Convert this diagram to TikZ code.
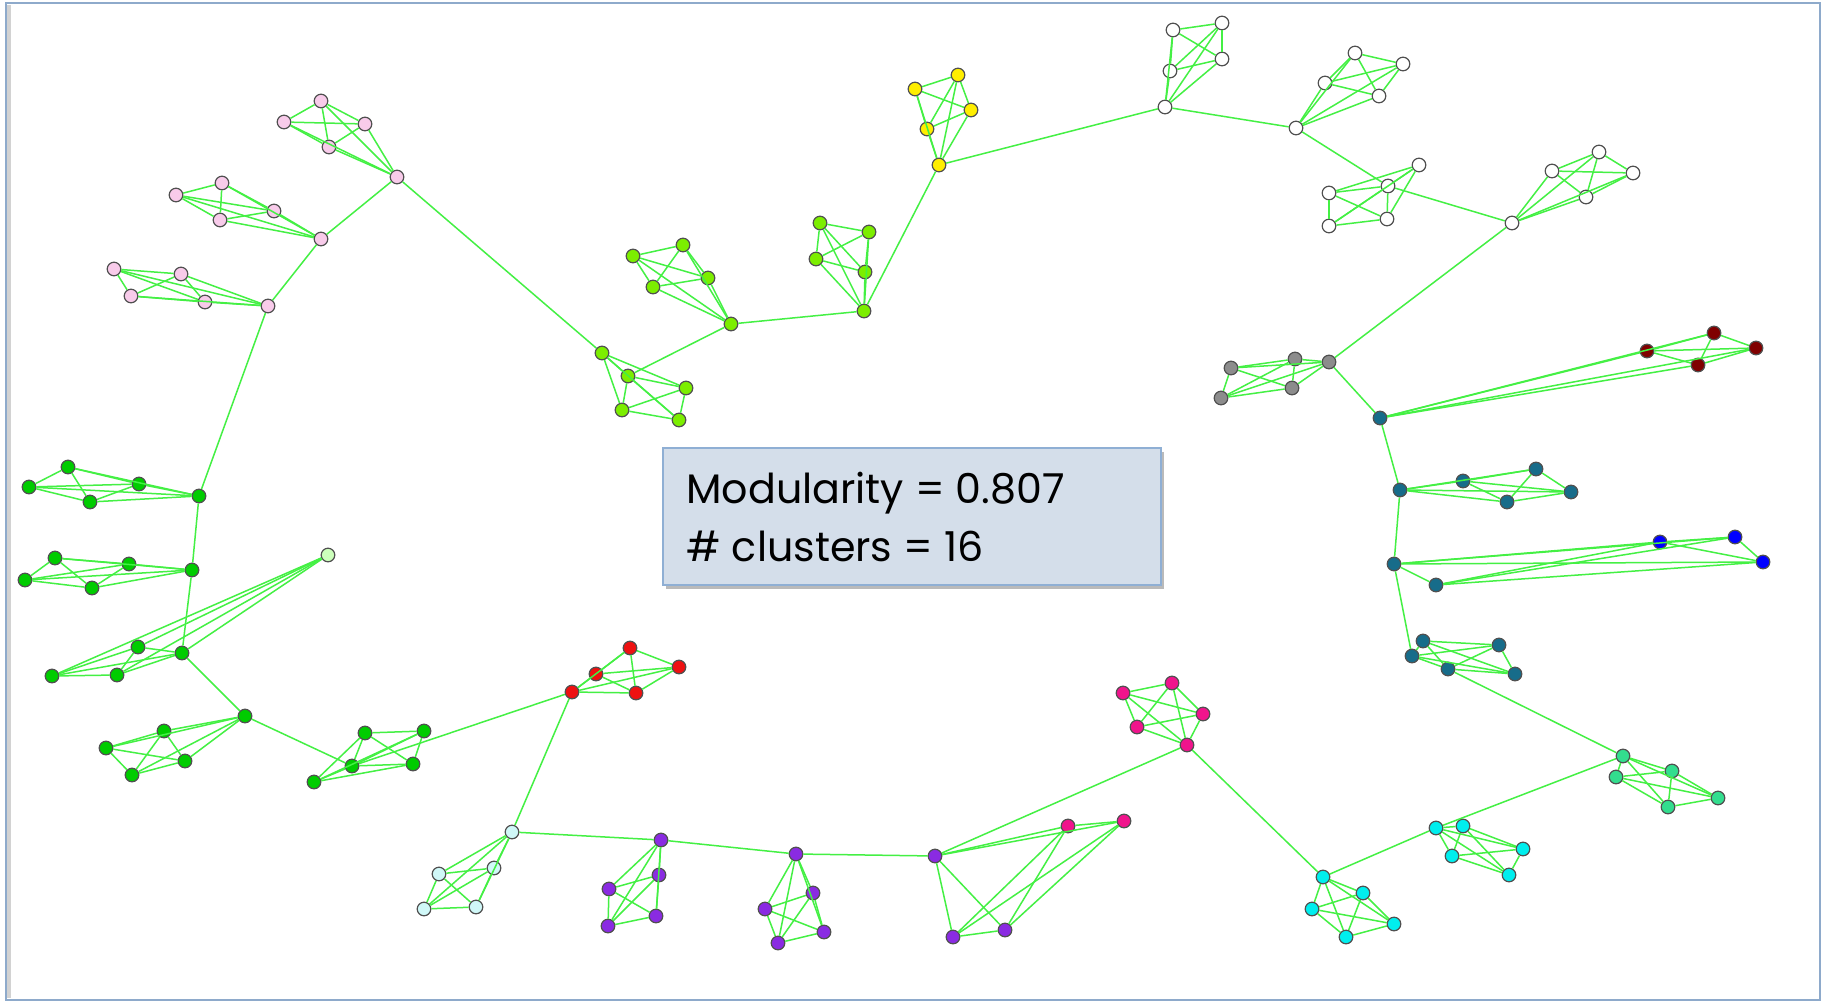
\documentclass[tikz,border=0pt]{standalone}
\usepackage{fontspec}
\setmainfont{Poppins}
\usetikzlibrary{shadows}

\definecolor{edgegreen}{HTML}{44F044}
\definecolor{rimgray}{HTML}{505050}
\definecolor{framecol}{HTML}{8EAACB}
\definecolor{boxfill}{HTML}{D4DEEA}
\definecolor{boxline}{HTML}{8FAFD4}
\definecolor{cpink}{HTML}{F8CBEA}
\definecolor{clime}{HTML}{7CEE00}
\definecolor{cyellow}{HTML}{FFEE00}
\definecolor{cwhite}{HTML}{FFFFFF}
\definecolor{cgray}{HTML}{8C8C8C}
\definecolor{cteal}{HTML}{176C8A}
\definecolor{cmaroon}{HTML}{800000}
\definecolor{cblue}{HTML}{0000FF}
\definecolor{cseagreen}{HTML}{33DD8E}
\definecolor{ccyan}{HTML}{00EEEE}
\definecolor{cmagenta}{HTML}{F0148C}
\definecolor{cpurple}{HTML}{8A2BE2}
\definecolor{clightcyan}{HTML}{D0F8F8}
\definecolor{cred}{HTML}{EE1111}
\definecolor{cgreen}{HTML}{00CC00}
\definecolor{cpale}{HTML}{CCFFBB}

\tikzset{
  vtx/.style={circle, draw=rimgray, line width=0.6pt, minimum size=6.8pt, inner sep=0pt},
  edge/.style={draw=edgegreen, line width=0.75pt},
  infobox/.style={draw=boxline, line width=1pt, fill=boxfill, inner sep=0pt,
    drop shadow={shadow xshift=1.5pt, shadow yshift=-2pt, opacity=0.45, fill=black!60}},
  infotext/.style={anchor=base west, inner sep=0pt,
    font=\fontsize{20.6}{29}\selectfont}
}

% vertex: colour, name, x, y
\newcommand\vx[4]{\node[vtx, fill=#1] (#2) at (#3,#4) {};}
% complete graph on a list of named vertices
\newcommand\mkclique[1]{%
  \foreach \u [count=\i] in {#1}{%
    \foreach \v [count=\j] in {#1}{%
      \ifnum\i<\j \draw[edge] (\u) -- (\v);\fi
    }}}

\begin{document}
\begin{tikzpicture}[x=0.5pt, y=-0.5pt]
\useasboundingbox (0,0) rectangle (1822,1001);
\fill[white] (0,0) rectangle (1822,1001);

% slide frame
\draw[gray!35, line width=2pt] (9,5) -- (9,998);
\draw[framecol, line width=1pt] (6,3) rectangle (1820,1000);

% ---------- vertices ----------
% pink
\vx{cpink}{p1a}{321}{101} \vx{cpink}{p1b}{284}{122} \vx{cpink}{p1c}{365}{124} \vx{cpink}{p1d}{329}{147} \vx{cpink}{p1h}{397}{177}
\vx{cpink}{p2a}{222}{183} \vx{cpink}{p2b}{176}{195} \vx{cpink}{p2c}{274}{211} \vx{cpink}{p2d}{220}{220} \vx{cpink}{p2h}{321}{239}
\vx{cpink}{p3a}{114}{269} \vx{cpink}{p3b}{181}{274} \vx{cpink}{p3c}{131}{296} \vx{cpink}{p3d}{205}{302} \vx{cpink}{p3h}{268}{306}
% lime
\vx{clime}{l3a}{602}{353} \vx{clime}{l3b}{628}{376} \vx{clime}{l3c}{686}{388} \vx{clime}{l3d}{622}{410} \vx{clime}{l3e}{679}{420}
\vx{clime}{l1a}{633}{256} \vx{clime}{l1b}{683}{245} \vx{clime}{l1c}{708}{278} \vx{clime}{l1d}{653}{287} \vx{clime}{l1h}{731}{324}
\vx{clime}{l2a}{820}{223} \vx{clime}{l2b}{869}{232} \vx{clime}{l2c}{816}{259} \vx{clime}{l2d}{865}{272} \vx{clime}{l2h}{864}{311}
% yellow
\vx{cyellow}{ya}{915}{89} \vx{cyellow}{yb}{958}{75} \vx{cyellow}{yc}{971}{110} \vx{cyellow}{yd}{927}{129} \vx{cyellow}{yh}{939}{165}
% white
\vx{cwhite}{w1a}{1173}{30} \vx{cwhite}{w1b}{1222}{23} \vx{cwhite}{w1c}{1222}{59} \vx{cwhite}{w1d}{1170}{71} \vx{cwhite}{w1h}{1165}{107}
\vx{cwhite}{w2a}{1355}{53} \vx{cwhite}{w2b}{1325}{83} \vx{cwhite}{w2c}{1403}{64} \vx{cwhite}{w2d}{1379}{96} \vx{cwhite}{w2h}{1296}{128}
\vx{cwhite}{w3a}{1329}{193} \vx{cwhite}{w3b}{1329}{226} \vx{cwhite}{w3c}{1419}{165} \vx{cwhite}{w3h}{1388}{186} \vx{cwhite}{w3e}{1387}{219}
\vx{cwhite}{w4h}{1512}{223} \vx{cwhite}{w4a}{1552}{171} \vx{cwhite}{w4b}{1599}{152} \vx{cwhite}{w4c}{1633}{173} \vx{cwhite}{w4d}{1586}{197}
% gray
\vx{cgray}{ga}{1231}{368} \vx{cgray}{gb}{1295}{359} \vx{cgray}{gh}{1329}{362} \vx{cgray}{gc}{1292}{388} \vx{cgray}{gd}{1221}{398}
% maroon
\vx{cmaroon}{ma}{1647}{351} \vx{cmaroon}{mb}{1714}{333} \vx{cmaroon}{mc}{1756}{348} \vx{cmaroon}{md}{1698}{365}
% teal
\vx{cteal}{t1h}{1380}{418}
\vx{cteal}{t2h}{1400}{490} \vx{cteal}{t2a}{1463}{481} \vx{cteal}{t2b}{1536}{469} \vx{cteal}{t2c}{1507}{502} \vx{cteal}{t2d}{1571}{492}
\vx{cteal}{t3h}{1394}{564} \vx{cteal}{t3a}{1436}{585}
\vx{cteal}{t4a}{1423}{641} \vx{cteal}{t4b}{1499}{645} \vx{cteal}{t4h}{1412}{656} \vx{cteal}{t4c}{1448}{669} \vx{cteal}{t4d}{1515}{674}
% blue
\vx{cblue}{ba}{1660}{542} \vx{cblue}{bb}{1735}{537} \vx{cblue}{bc}{1763}{562}
% sea green
\vx{cseagreen}{s1h}{1623}{756} \vx{cseagreen}{s1a}{1672}{771} \vx{cseagreen}{s1b}{1616}{777} \vx{cseagreen}{s1c}{1718}{798} \vx{cseagreen}{s1d}{1668}{807}
% cyan
\vx{ccyan}{c1h}{1436}{828} \vx{ccyan}{c1a}{1463}{826} \vx{ccyan}{c1b}{1452}{856} \vx{ccyan}{c1c}{1523}{849} \vx{ccyan}{c1d}{1509}{875}
\vx{ccyan}{c2h}{1323}{877} \vx{ccyan}{c2a}{1312}{909} \vx{ccyan}{c2b}{1346}{937} \vx{ccyan}{c2c}{1363}{893} \vx{ccyan}{c2d}{1394}{924}
% magenta
\vx{cmagenta}{m1a}{1123}{693} \vx{cmagenta}{m1b}{1172}{683} \vx{cmagenta}{m1c}{1203}{714} \vx{cmagenta}{m1d}{1137}{727} \vx{cmagenta}{m1h}{1187}{745}
\vx{cmagenta}{m2a}{1068}{826} \vx{cmagenta}{m2b}{1124}{821}
% purple
\vx{cpurple}{v3h}{935}{856} \vx{cpurple}{v3a}{953}{937} \vx{cpurple}{v3b}{1005}{930}
\vx{cpurple}{v2h}{796}{854} \vx{cpurple}{v2a}{813}{893} \vx{cpurple}{v2b}{765}{909} \vx{cpurple}{v2c}{824}{932} \vx{cpurple}{v2d}{778}{943}
\vx{cpurple}{v1h}{661}{840} \vx{cpurple}{v1a}{659}{875} \vx{cpurple}{v1b}{609}{889} \vx{cpurple}{v1c}{656}{916} \vx{cpurple}{v1d}{608}{926}
% light cyan
\vx{clightcyan}{lch}{512}{832} \vx{clightcyan}{lca}{494}{868} \vx{clightcyan}{lcb}{476}{907} \vx{clightcyan}{lcc}{439}{874} \vx{clightcyan}{lcd}{424}{909}
% red
\vx{cred}{rh}{572}{692} \vx{cred}{ra}{596}{674} \vx{cred}{rb}{630}{648} \vx{cred}{rc}{679}{667} \vx{cred}{rd}{636}{693}
% green
\vx{cgreen}{g6a}{365}{733} \vx{cgreen}{g6b}{424}{731} \vx{cgreen}{g6h}{352}{766} \vx{cgreen}{g6c}{413}{764} \vx{cgreen}{g6d}{314}{782}
\vx{cgreen}{g5h}{245}{716} \vx{cgreen}{g5a}{164}{731} \vx{cgreen}{g5b}{106}{748} \vx{cgreen}{g5c}{185}{761} \vx{cgreen}{g5d}{132}{775}
\vx{cgreen}{g4a}{138}{647} \vx{cgreen}{g4h}{182}{653} \vx{cgreen}{g4b}{52}{676} \vx{cgreen}{g4c}{117}{675}
\vx{cpale}{pale}{328}{555}
\vx{cgreen}{g3a}{55}{558} \vx{cgreen}{g3b}{129}{564} \vx{cgreen}{g3c}{25}{580} \vx{cgreen}{g3d}{92}{588} \vx{cgreen}{g3h}{192}{570}
\vx{cgreen}{g2a}{68}{467} \vx{cgreen}{g2b}{29}{487} \vx{cgreen}{g2c}{139}{484} \vx{cgreen}{g2d}{90}{502} \vx{cgreen}{g2h}{199}{496}

% ---------- edges inside clusters ----------
\mkclique{p1a,p1b,p1c,p1d,p1h}
\mkclique{p2a,p2b,p2c,p2d,p2h}
\mkclique{p3a,p3b,p3c,p3d,p3h}
\mkclique{l3a,l3b,l3c,l3d,l3e}
\mkclique{l1a,l1b,l1c,l1d,l1h}
\mkclique{l2a,l2b,l2c,l2d,l2h}
\mkclique{ya,yb,yc,yd,yh}
\mkclique{w1a,w1b,w1c,w1d,w1h}
\mkclique{w2a,w2b,w2c,w2d,w2h}
\mkclique{w3a,w3b,w3c,w3h,w3e}
\mkclique{w4h,w4a,w4b,w4c,w4d}
\mkclique{ga,gb,gh,gc,gd}
\mkclique{t1h,ma,mb,mc,md}
\mkclique{t2h,t2a,t2b,t2c,t2d}
\mkclique{t3h,t3a,ba,bb,bc}
\mkclique{t4a,t4b,t4h,t4c,t4d}
\mkclique{s1h,s1a,s1b,s1c,s1d}
\mkclique{c1h,c1a,c1b,c1c,c1d}
\mkclique{c2h,c2a,c2b,c2c,c2d}
\mkclique{m1a,m1b,m1c,m1d,m1h}
\mkclique{v3h,v3a,v3b,m2a,m2b}
\mkclique{v2h,v2a,v2b,v2c,v2d}
\mkclique{v1h,v1a,v1b,v1c,v1d}
\mkclique{lch,lca,lcb,lcc,lcd}
\mkclique{rh,ra,rb,rc,rd}
\mkclique{g6a,g6b,g6h,g6c,g6d}
\mkclique{g5h,g5a,g5b,g5c,g5d}
\mkclique{g4a,g4h,g4b,g4c,pale}
\mkclique{g3a,g3b,g3c,g3d,g3h}
\mkclique{g2a,g2b,g2c,g2d,g2h}

% ---------- edges between clusters ----------
\draw[edge] (p1h) -- (p2h);
\draw[edge] (p2h) -- (p3h);
\draw[edge] (p1h) -- (l3a);
\draw[edge] (p3h) -- (g2h);
\draw[edge] (l3b) -- (l1h);
\draw[edge] (l1h) -- (l2h);
\draw[edge] (l2h) -- (yh);
\draw[edge] (yh) -- (w1h);
\draw[edge] (w1h) -- (w2h);
\draw[edge] (w2h) -- (w3h);
\draw[edge] (w3h) -- (w4h);
\draw[edge] (w4h) -- (gh);
\draw[edge] (gh) -- (t1h);
\draw[edge] (t1h) -- (t2h);
\draw[edge] (t2h) -- (t3h);
\draw[edge] (t3h) -- (t4h);
\draw[edge] (t4c) -- (s1h);
\draw[edge] (s1h) -- (c1h);
\draw[edge] (c1h) -- (c2h);
\draw[edge] (c2h) -- (m1h);
\draw[edge] (m1h) -- (v3h);
\draw[edge] (v3h) -- (v2h);
\draw[edge] (v2h) -- (v1h);
\draw[edge] (v1h) -- (lch);
\draw[edge] (lch) -- (rh);
\draw[edge] (rh) -- (g6h);
\draw[edge] (g6h) -- (g5h);
\draw[edge] (g5h) -- (g4h);
\draw[edge] (g4h) -- (g3h);
\draw[edge] (g3h) -- (g2h);

% ---------- summary box ----------
\node[infobox, minimum width=249pt, minimum height=68.5pt] (box) at (912,516.5) {};
\node[infotext] (line1) at (686,503) {Modularity = 0.807};
\node[infotext] (line2) at (686,561) {\# clusters = 16};
\end{tikzpicture}
\end{document}
